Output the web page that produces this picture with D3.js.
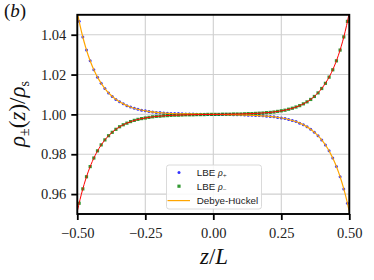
<!DOCTYPE html>
<html><head><meta charset="utf-8">
<script src="https://cdn.jsdelivr.net/npm/d3@7"></script>
<style>
html,body{margin:0;padding:0;background:#fff;}
svg{display:block;}
</style></head>
<body>
<svg id="chart" width="374" height="280"></svg>
<script>
// ---- data ----
const zLBE = [-0.4932,-0.4797,-0.4662,-0.4527,-0.4392,-0.4257,-0.4122,-0.3986,-0.3851,-0.3716,-0.3581,-0.3446,-0.3311,-0.3176,-0.3041,-0.2905,-0.2770,-0.2635,-0.2500,-0.2365,-0.2230,-0.2095,-0.1959,-0.1824,-0.1689,-0.1554,-0.1419,-0.1284,-0.1149,-0.1014,-0.0878,-0.0743,-0.0608,-0.0473,-0.0338,-0.0203,-0.0068,
  0.0068,0.0203,0.0338,0.0473,0.0608,0.0743,0.0878,0.1014,0.1149,0.1284,0.1419,0.1554,0.1689,0.1824,0.1959,0.2095,0.2230,0.2365,0.2500,0.2635,0.2770,0.2905,0.3041,0.3176,0.3311,0.3446,0.3581,0.3716,0.3851,0.3986,0.4122,0.4257,0.4392,0.4527,0.4662,0.4797,0.4932];
const rhoPlus = [1.0467,1.0389,1.0323,1.0269,1.0224,1.0187,1.0156,1.0130,1.0108,1.0090,1.0075,1.0063,1.0053,1.0044,1.0037,1.0031,1.0026,1.0021,1.0018,1.0015,1.0012,1.0010,1.0009,1.0007,1.0006,1.0005,1.0004,1.0004,1.0003,1.0002,1.0002,1.0002,1.0001,1.0001,1.0001,1.0000,1.0000,
  1.0000,1.0000,0.9999,0.9999,0.9999,0.9998,0.9998,0.9998,0.9997,0.9996,0.9996,0.9995,0.9994,0.9993,0.9991,0.9990,0.9988,0.9985,0.9982,0.9979,0.9975,0.9970,0.9964,0.9956,0.9948,0.9938,0.9925,0.9910,0.9893,0.9872,0.9847,0.9817,0.9781,0.9738,0.9687,0.9626,0.9554];
const rhoMinus = [0.9554,0.9626,0.9687,0.9738,0.9781,0.9817,0.9847,0.9872,0.9893,0.9910,0.9925,0.9938,0.9948,0.9956,0.9964,0.9970,0.9975,0.9979,0.9982,0.9985,0.9988,0.9990,0.9991,0.9993,0.9994,0.9995,0.9996,0.9996,0.9997,0.9998,0.9998,0.9998,0.9999,0.9999,0.9999,1.0000,1.0000,
  1.0000,1.0000,1.0001,1.0001,1.0001,1.0002,1.0002,1.0002,1.0003,1.0004,1.0004,1.0005,1.0006,1.0007,1.0009,1.0010,1.0012,1.0015,1.0018,1.0021,1.0026,1.0031,1.0037,1.0044,1.0053,1.0063,1.0075,1.0090,1.0108,1.0130,1.0156,1.0187,1.0224,1.0269,1.0323,1.0389,1.0467];
const zDH = [-0.5,-0.495,-0.49,-0.48,-0.47,-0.46,-0.45,-0.44,-0.43,-0.42,-0.40,-0.38,-0.36,-0.34,-0.32,-0.30,-0.27,-0.24,-0.20,-0.15,-0.10,-0.05,0,
  0.05,0.10,0.15,0.20,0.24,0.27,0.30,0.32,0.34,0.36,0.38,0.40,0.42,0.43,0.44,0.45,0.46,0.47,0.48,0.49,0.495,0.5];
const dhPlus = [1.05122,1.04783,1.04468,1.03899,1.03404,1.02971,1.02595,1.02267,1.01981,1.01732,1.01324,1.01011,1.00774,1.00592,1.00453,1.00347,1.00232,1.00155,1.00091,1.00046,1.00022,1.00009,1.0,
  0.99991,0.99978,0.99954,0.99909,0.99845,0.99768,0.99655,0.99549,0.99412,0.99232,0.98999,0.98694,0.98298,0.98057,0.97783,0.97471,0.97114,0.96708,0.96247,0.95723,0.95435,0.95128];
const dhMinus = [0.95128,0.95435,0.95723,0.96247,0.96708,0.97114,0.97471,0.97783,0.98057,0.98298,0.98694,0.98999,0.99232,0.99412,0.99549,0.99655,0.99768,0.99845,0.99909,0.99954,0.99978,0.99991,1.0,
  1.00009,1.00022,1.00046,1.00091,1.00155,1.00232,1.00347,1.00453,1.00592,1.00774,1.01011,1.01324,1.01732,1.01981,1.02267,1.02595,1.02971,1.03404,1.03899,1.04468,1.04783,1.05122];
const xTicks = [-0.5,-0.25,0,0.25,0.5];
const xTickLabels = ["\u22120.50","\u22120.25","0.00","0.25","0.50"];
const yTicks = [0.96,0.98,1.00,1.02,1.04];
const yTickLabels = ["0.96","0.98","1.00","1.02","1.04"];
const xDomain = [-0.5,0.5];
const yDomain = [0.95,1.05];
const legendLabels = ["LBE", "LBE", "Debye-H\u00fcckel"];

// ---- layout ----
const L = 77.3, R = 349.3, T = 14.8, B = 214;
const svg = d3.select("#chart");
const x = d3.scaleLinear().domain(xDomain).range([L, R]);
const y = d3.scaleLinear().domain(yDomain).range([B, T]);
const serif = "'Liberation Serif','DejaVu Serif',serif";
const sans = "'Liberation Sans',Arial,sans-serif";

svg.append("rect").attr("width",374).attr("height",280).attr("fill","#fff");

svg.append("defs").append("clipPath").attr("id","clip")
  .append("rect").attr("x",L).attr("y",T).attr("width",R-L).attr("height",B-T);

// grid
const grid = svg.append("g");
grid.selectAll("line.gx").data(xTicks).enter().append("line")
  .attr("x1",d=>x(d)).attr("x2",d=>x(d)).attr("y1",T).attr("y2",B)
  .attr("stroke","#cfcfcf").attr("stroke-width",1.1);
grid.selectAll("line.gy").data(yTicks).enter().append("line")
  .attr("y1",d=>y(d)).attr("y2",d=>y(d)).attr("x1",L).attr("x2",R)
  .attr("stroke","#cfcfcf").attr("stroke-width",1.1);

const plot = svg.append("g").attr("clip-path","url(#clip)");
// LBE rho+
plot.selectAll("circle.p").data(zLBE).enter().append("circle")
  .attr("cx",d=>x(d)).attr("cy",(d,i)=>y(rhoPlus[i])).attr("r",1.5)
  .attr("fill","#0000ff").attr("fill-opacity",0.8);
// LBE rho-
plot.selectAll("rect.m").data(zLBE).enter().append("rect")
  .attr("x",d=>x(d)-1.6).attr("y",(d,i)=>y(rhoMinus[i])-1.6).attr("width",3.2).attr("height",3.2)
  .attr("fill","#008000").attr("fill-opacity",0.8);
// DH lines
const line = d3.line().x(d=>x(d[0])).y(d=>y(d[1])).curve(d3.curveMonotoneX);
plot.append("path").datum(zDH.map((z,i)=>[z,dhPlus[i]]))
  .attr("d",line).attr("fill","none").attr("stroke","#ffa500").attr("stroke-width",1.2);
plot.append("path").datum(zDH.map((z,i)=>[z,dhMinus[i]]))
  .attr("d",line).attr("fill","none").attr("stroke","#ff0000").attr("stroke-width",1.0);

// axes
const xAxis = d3.axisBottom(x).tickValues(xTicks).tickSize(6).tickPadding(4)
  .tickFormat((d,i)=>xTickLabels[i]);
const yAxis = d3.axisLeft(y).tickValues(yTicks).tickSize(6).tickPadding(5)
  .tickFormat((d,i)=>yTickLabels[i]);
const gx = svg.append("g").attr("transform",`translate(0,${B})`).call(xAxis);
const gy = svg.append("g").attr("transform",`translate(${L},0)`).call(yAxis);
[gx,gy].forEach(g=>{
  g.select(".domain").remove();
  g.selectAll(".tick line").attr("stroke","#000").attr("stroke-width",1.8);
  g.selectAll(".tick text").attr("font-family",serif).attr("font-size",14.5).attr("fill","#222");
});
gx.selectAll(".tick text").attr("dy","0.95em");

// spines
svg.append("rect").attr("x",L).attr("y",T).attr("width",R-L).attr("height",B-T)
  .attr("fill","none").attr("stroke","#000").attr("stroke-width",1.9);

// legend
const lg = svg.append("g");
lg.append("rect").attr("x",166.5).attr("y",165).attr("width",95).attr("height",44).attr("rx",2.5)
  .attr("fill","#fff").attr("fill-opacity",0.85).attr("stroke","#d6d6d6").attr("stroke-width",0.9);
const rows = [172.6, 186.2, 200.6];
lg.append("circle").attr("cx",179).attr("cy",rows[0]).attr("r",1.5).attr("fill","#0000ff").attr("fill-opacity",0.8);
lg.append("rect").attr("x",179-1.6).attr("y",rows[1]-1.6).attr("width",3.2).attr("height",3.2).attr("fill","#008000").attr("fill-opacity",0.8);
lg.append("line").attr("x1",167.5).attr("x2",190).attr("y1",rows[2]).attr("y2",rows[2]).attr("stroke","#ffa500").attr("stroke-width",1.2);
const subs = ["+","\u2212",null];
legendLabels.forEach((t,i)=>{
  const tx = lg.append("text").attr("x",196.7).attr("y",rows[i]+3.5)
    .attr("font-family",sans).attr("font-size",9.8).attr("fill","#222").text(t);
  if(subs[i]){
    tx.append("tspan").text(" ");
    tx.append("tspan").attr("font-family",serif).attr("font-style","italic").attr("font-size",10).text("\u03c1");
    tx.append("tspan").attr("font-family",serif).attr("font-size",7).attr("dy",1.8).text(subs[i]);
  }
});

// axis labels
const xl = svg.append("text").attr("x",214).attr("y",264).attr("text-anchor","middle")
  .attr("font-family",serif).attr("font-size",23).attr("fill","#111");
xl.append("tspan").attr("font-style","italic").text("z");
xl.append("tspan").text("/");
xl.append("tspan").attr("font-style","italic").text("L");

const yl = svg.append("text").attr("transform","translate(25,114) rotate(-90)").attr("text-anchor","middle")
  .attr("font-family",serif).attr("font-size",23).attr("fill","#111");
yl.append("tspan").attr("font-style","italic").text("\u03c1");
yl.append("tspan").attr("font-size",14).attr("dy",4).text("\u00b1");
yl.append("tspan").attr("dy",-4).text("(");
yl.append("tspan").attr("font-style","italic").text("z");
yl.append("tspan").text(")/");
yl.append("tspan").attr("font-style","italic").text("\u03c1");
yl.append("tspan").attr("font-size",14).attr("dy",4).text("s");

const bl = svg.append("text").attr("x",4).attr("y",17).attr("font-family",serif).attr("font-size",19).attr("fill","#111");
bl.append("tspan").text("(");
bl.append("tspan").attr("font-style","italic").text("b");
bl.append("tspan").text(")");
</script>
</body></html>
